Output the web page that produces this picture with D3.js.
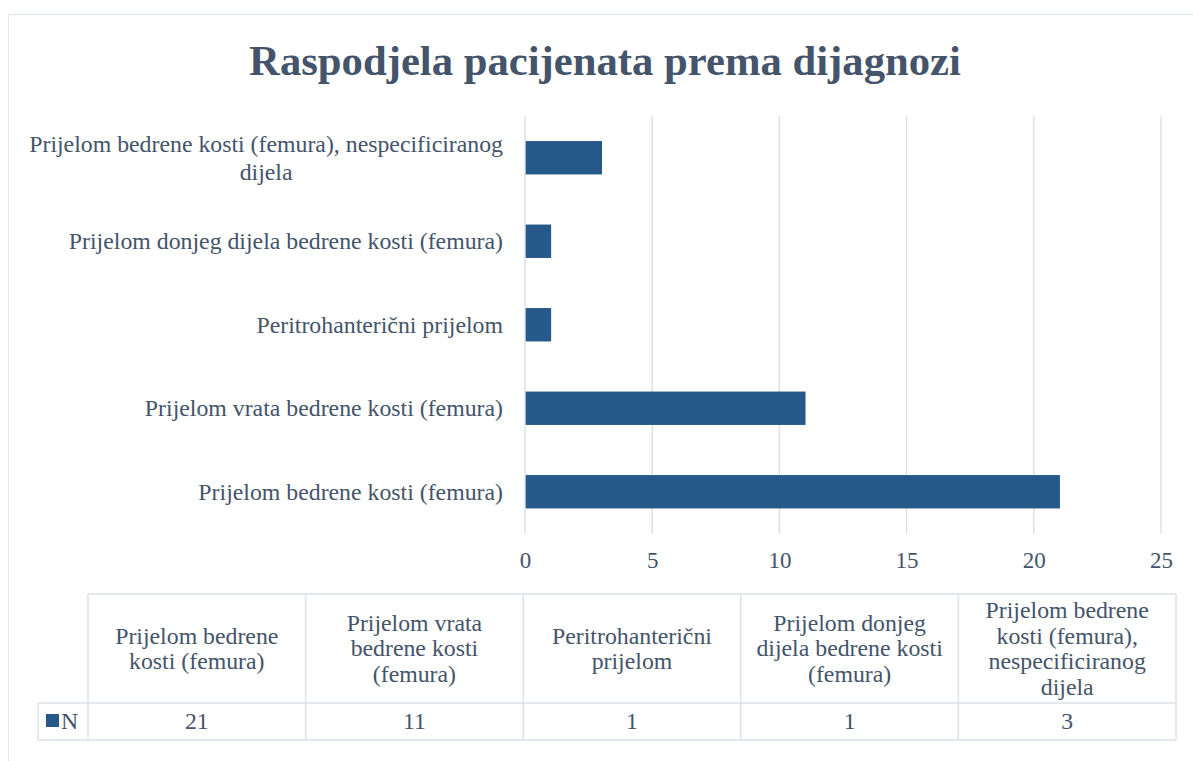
<!DOCTYPE html>
<html>
<head>
<meta charset="utf-8">
<script src="https://cdn.jsdelivr.net/npm/d3@7"></script>
<style>
  body { margin: 0; background: #fff; }
  text { font-family: "Liberation Serif", "Times New Roman", serif; fill: #44546A; }
</style>
</head>
<body>
<div id="vis"></div>
<script>
// chart data
var categories = [
    "Prijelom bedrene kosti (femura)",
    "Prijelom vrata bedrene kosti (femura)",
    "Peritrohanterični prijelom",
    "Prijelom donjeg dijela bedrene kosti (femura)",
    "Prijelom bedrene kosti (femura), nespecificiranog dijela"
];
var values = [21, 11, 1, 1, 3];
var seriesName = "N";
var xTicks = [0, 5, 10, 15, 20, 25];
var title = "Raspodjela pacijenata prema dijagnozi";

var width = 1193, height = 761;
var barColor = "#26598a", gridColor = "#dadfe7", textColor = "#44546A";

var svg = d3.select("#vis").append("svg")
    .attr("width", width)
    .attr("height", height);

var rows = categories.map(function (c, i) { return {cat: c, val: values[i]}; });

// chart border
svg.append("rect")
    .attr("x", 8.5).attr("y", 14.5)
    .attr("width", 1200).attr("height", 800)
    .attr("fill", "none")
    .attr("stroke", "#e1e5eb")
    .attr("stroke-width", 1.2);

svg.append("text")
    .attr("x", 605).attr("y", 75)
    .attr("text-anchor", "middle")
    .style("font-size", "42.7px")
    .style("font-weight", "bold")
    .text(title);

//scales
var x = d3.scaleLinear().domain([0, 25]).range([525, 1161]);
//first category at the bottom, like excel
var y = d3.scaleBand()
    .domain(categories.slice().reverse())
    .range([116, 533.5])
    .paddingInner(0.6)
    .paddingOuter(0.3);

//gridlines
svg.append("g").selectAll("line")
    .data(xTicks)
    .enter().append("line")
    .attr("x1", function (d) { return x(d); })
    .attr("x2", function (d) { return x(d); })
    .attr("y1", 116)
    .attr("y2", 533.5)
    .attr("stroke", gridColor)
    .attr("stroke-width", 1.4);

//bars
svg.append("g").selectAll("rect")
    .data(rows)
    .enter().append("rect")
    .attr("x", x(0) + 0.7)
    .attr("y", function (d) { return y(d.cat); })
    .attr("width", function (d) { return x(d.val) - x(0); })
    .attr("height", y.bandwidth())
    .attr("fill", barColor);

//x axis, only labels
var xAxis = d3.axisBottom(x).tickValues(xTicks).tickSize(0).tickPadding(0);
var xg = svg.append("g")
    .attr("transform", "translate(0,552)")
    .call(xAxis);
xg.select(".domain").remove();
xg.selectAll("text")
    .attr("dy", "0.71em")
    .style("font-size", "23px")
    .style("font-family", "'Liberation Serif', 'Times New Roman', serif")
    .attr("fill", textColor);

//split text into lines that fit maxW, measured with a scratch text node
var scratch = svg.append("text").style("font-size", "23.8px");
function splitLines(str, maxW) {
    var words = str.split(" "), lines = [], line = "";
    words.forEach(function (w) {
        var test = line ? line + " " + w : w;
        scratch.text(test);
        if (scratch.node().getComputedTextLength() > maxW && line) {
            lines.push(line);
            line = w;
        } else {
            line = test;
        }
    });
    if (line) lines.push(line);
    return lines;
}
function textW(str) {
    scratch.text(str);
    return scratch.node().getComputedTextLength();
}

//category labels, right aligned at 503, lines centered in their block
var labelRight = 503, labelLH = 28;
categories.forEach(function (c) {
    var lines = splitLines(c, 485);
    var blockW = d3.max(lines, textW);
    var cx = labelRight - blockW / 2;
    var cy = y(c) + y.bandwidth() / 2;
    var t = svg.append("text")
        .attr("text-anchor", "middle")
        .style("font-size", "23.8px");
    lines.forEach(function (l, i) {
        t.append("tspan")
            .attr("x", cx)
            .attr("y", cy + (i - (lines.length - 1) / 2) * labelLH)
            .attr("dy", "0.33em")
            .text(l);
    });
});

//data table
var tTop = 594, tMid = 703, tBot = 740, tLeft = 38;
var col = d3.scaleBand().domain(categories).range([88, 1176]);
var table = svg.append("g").attr("stroke", "#dde2ea").attr("stroke-width", 1.5);

table.append("line").attr("x1", 88).attr("x2", 1176).attr("y1", tTop).attr("y2", tTop);
table.append("line").attr("x1", tLeft).attr("x2", 1176).attr("y1", tMid).attr("y2", tMid);
table.append("line").attr("x1", tLeft).attr("x2", 1176).attr("y1", tBot).attr("y2", tBot);
table.append("line").attr("x1", tLeft).attr("x2", tLeft).attr("y1", tMid).attr("y2", tBot);
table.selectAll(".vline")
    .data(categories.concat(["end"]))
    .enter().append("line")
    .attr("class", "vline")
    .attr("x1", function (d) { return d == "end" ? 1176 : col(d); })
    .attr("x2", function (d) { return d == "end" ? 1176 : col(d); })
    .attr("y1", tTop)
    .attr("y2", tBot);

var tableLH = 25.5;
categories.forEach(function (c) {
    var lines = splitLines(c, 200);
    var cx = col(c) + col.bandwidth() / 2;
    var cy = (tTop + tMid) / 2;
    var t = svg.append("text")
        .attr("text-anchor", "middle")
        .style("font-size", "23.8px");
    lines.forEach(function (l, i) {
        t.append("tspan")
            .attr("x", cx)
            .attr("y", cy + (i - (lines.length - 1) / 2) * tableLH)
            .attr("dy", "0.33em")
            .text(l);
    });
});

svg.append("g").selectAll("text")
    .data(rows)
    .enter().append("text")
    .attr("x", function (d) { return col(d.cat) + col.bandwidth() / 2; })
    .attr("y", (tMid + tBot) / 2)
    .attr("dy", "0.33em")
    .attr("text-anchor", "middle")
    .style("font-size", "23.8px")
    .text(function (d) { return d.val; });

//legend key in the table
svg.append("rect")
    .attr("x", 46).attr("y", 714)
    .attr("width", 13).attr("height", 13)
    .attr("fill", barColor);
svg.append("text")
    .attr("x", 61).attr("y", (tMid + tBot) / 2)
    .attr("dy", "0.33em")
    .style("font-size", "23.8px")
    .text(seriesName);

scratch.remove();
</script>
</body>
</html>
